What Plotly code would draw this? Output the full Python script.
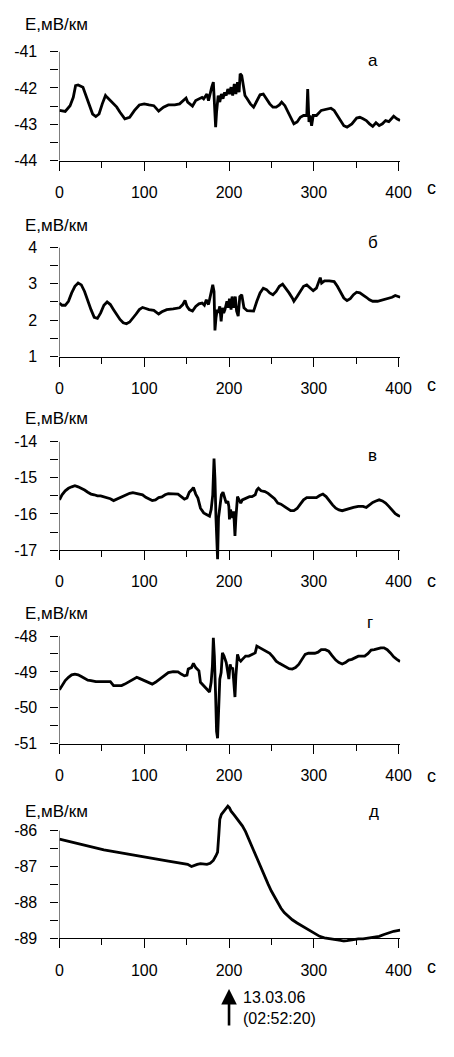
import plotly.graph_objects as go

# ---------------- data (time, s ; E, mV/km) ----------------
t_a = [0, 6.8, 12.5, 16.3, 19, 22, 27.7, 31.5, 35.3, 39.1, 42.9, 46.7, 50.5, 54.3, 56.2, 61.9, 67.6, 71.4, 74.4, 77.1,
       82.8, 88.5, 94.2, 99.9, 105.6, 111.3, 117, 122.7, 128.4, 136, 141.7, 145.5, 149.3, 151.2, 156.9, 160.7, 164.5,
       168.2, 170.1, 173.9, 175.8, 177.7, 179.6, 181.5, 182.7, 184.2, 185.3, 187.2, 189.1, 191, 192.9, 194.8, 196.7,
       198.6, 200.5, 202.4, 204.3, 206.2, 208.1, 210, 211.9, 213.1, 215, 216.5, 218.8, 221.4, 225.2, 229, 232.8, 236.6,
       240.4, 244.2, 248, 251.8, 255.6, 259.4, 262.1, 265.9, 268.9, 272.7, 276.5, 280.3, 284.1, 287.9, 291.7, 292.8,
       294.3, 295.5, 297.4, 299.3, 303.1, 308.8, 314.5, 320.2, 324, 327.8, 331.6, 335.4, 339.2, 344.9, 350.5, 354.3,
       358.1, 361.9, 365.7, 369.5, 373.3, 377.1, 380.9, 384.7, 388.5, 392.3, 394.2, 398, 401.8]
e_a = [-42.62, -42.65, -42.49, -42.26, -41.94, -41.92, -41.98, -42.21, -42.49, -42.72, -42.79, -42.72, -42.44, -42.21,
       -42.26, -42.39, -42.53, -42.67, -42.78, -42.85, -42.81, -42.62, -42.47, -42.44, -42.47, -42.49, -42.64, -42.53,
       -42.47, -42.47, -42.44, -42.35, -42.28, -42.39, -42.5, -42.35, -42.3, -42.26, -42.3, -42.17, -42.35, -42.12,
       -41.98, -41.84, -42.3, -43.08, -42.67, -42.21, -42.39, -42.17, -42.3, -42.12, -42.21, -42.03, -42.17, -41.98,
       -42.21, -41.89, -42.17, -41.84, -42.12, -41.61, -41.66, -41.94, -42.21, -42.3, -42.44, -42.53, -42.35, -42.19,
       -42.17, -42.3, -42.44, -42.53, -42.53, -42.47, -42.39, -42.49, -42.62, -42.81, -42.99, -42.94, -42.81, -42.76,
       -42.76, -42.03, -42.94, -42.76, -43.04, -42.76, -42.76, -42.62, -42.58, -42.56, -42.62, -42.76, -42.9, -43.04,
       -43.08, -42.99, -42.83, -42.81, -42.85, -42.9, -42.99, -43.06, -42.96, -43.04, -42.99, -42.9, -42.93, -42.81,
       -42.78, -42.85, -42.9]

t_b = [0, 3.0, 6.8, 10.6, 14.4, 18.2, 22.0, 25.8, 29.6, 33.4, 37.2, 41.0, 44.8, 48.6, 52.4, 56.2, 60.0, 63.8, 67.6,
       71.4, 75.2, 79.0, 82.8, 86.6, 90.4, 94.2, 98.0, 101.8, 105.6, 111.3, 117.0, 120.8, 126.5, 134.1, 141.7, 145.5,
       148.1, 150.4, 153.1, 156.9, 160.7, 164.5, 168.2, 170.9, 173.2, 175.8, 177.7, 180.8, 182.3, 183.4, 184.6, 186.1,
       187.2, 189.1, 190.7, 192.2, 193.7, 195.2, 197.5, 199.0, 200.5, 202.4, 203.6, 205.5, 207.4, 208.9, 210.8, 212.7,
       215.0, 217.6, 221.4, 225.2, 229.0, 232.8, 236.6, 240.4, 244.2, 248.0, 251.8, 255.6, 259.4, 263.2, 267.0, 270.8,
       274.6, 276.5, 280.3, 284.1, 287.9, 291.7, 295.5, 299.3, 303.1, 306.1, 307.6, 309.2, 312.6, 318.3, 324.0, 327.8,
       331.6, 335.4, 339.2, 343.0, 346.8, 350.5, 354.3, 358.1, 361.9, 365.7, 369.5, 375.2, 380.9, 386.6, 392.3, 396.1,
       399.9, 402]
e_b = [2.47, 2.41, 2.41, 2.52, 2.75, 2.93, 3.02, 2.97, 2.79, 2.52, 2.29, 2.08, 2.05, 2.2, 2.41, 2.5, 2.43, 2.29, 2.15,
       2.02, 1.93, 1.9, 1.95, 2.05, 2.17, 2.29, 2.35, 2.32, 2.29, 2.27, 2.17, 2.23, 2.29, 2.31, 2.34, 2.43, 2.54, 2.38,
       2.29, 2.25, 2.38, 2.45, 2.47, 2.41, 2.56, 2.43, 2.65, 2.97, 2.79, 1.72, 2.06, 2.29, 2.2, 2.38, 1.97, 2.34, 2.2,
       2.29, 2.52, 2.34, 2.59, 2.29, 2.65, 2.34, 2.65, 2.25, 2.11, 2.65, 2.7, 2.34, 2.26, 2.25, 2.25, 2.52, 2.75, 2.88,
       2.84, 2.75, 2.7, 2.79, 2.93, 2.99, 2.88, 2.75, 2.61, 2.52, 2.65, 2.79, 2.93, 2.97, 2.88, 2.81, 2.88, 3.06, 3.17,
       3.02, 3.08, 3.08, 3.06, 2.93, 2.75, 2.61, 2.54, 2.59, 2.7, 2.77, 2.75, 2.7, 2.63, 2.56, 2.52, 2.52, 2.55, 2.59,
       2.63, 2.68, 2.64, 2.63]

t_v = [0, 3.0, 6.8, 10.6, 14.4, 18.2, 22.0, 25.8, 29.6, 33.4, 37.2, 41.0, 44.8, 48.6, 52.4, 56.2, 60.0, 63.8, 67.6,
       71.4, 75.2, 79.0, 82.8, 86.6, 90.4, 94.2, 98.0, 101.8, 105.6, 109.4, 113.2, 117.0, 120.8, 124.6, 128.4, 132.2,
       136.0, 139.8, 143.6, 147.4, 150.4, 153.1, 155.7, 158.0, 160.7, 163.3, 166.3, 170.1, 173.9, 177.0, 178.9, 180.8,
       182.3, 183.4, 184.6, 185.7, 186.5, 187.6, 189.1, 191.0, 192.9, 194.8, 196.7, 198.6, 199.8, 200.5, 201.7, 203.2,
       204.3, 205.5, 207.0, 208.1, 210.0, 211.9, 213.8, 215.7, 218.4, 221.4, 224.1, 227.1, 230.9, 232.8, 234.7, 237.8,
       242.3, 246.1, 249.9, 253.7, 257.5, 261.3, 265.1, 268.9, 272.7, 276.5, 280.3, 284.1, 287.9, 291.7, 295.5, 299.3,
       303.1, 306.9, 310.7, 314.5, 318.3, 322.1, 325.9, 329.7, 333.5, 337.3, 341.1, 346.8, 352.5, 358.1, 361.9, 365.7,
       369.5, 373.3, 377.1, 380.9, 384.7, 388.5, 392.3, 396.1, 399.9, 401.8]
e_v = [-15.61, -15.47, -15.36, -15.29, -15.25, -15.22, -15.25, -15.29, -15.34, -15.4, -15.45, -15.47, -15.5, -15.5,
       -15.52, -15.55, -15.58, -15.63, -15.59, -15.55, -15.49, -15.45, -15.43, -15.41, -15.43, -15.43, -15.47, -15.54,
       -15.59, -15.63, -15.61, -15.55, -15.53, -15.47, -15.44, -15.44, -15.44, -15.45, -15.52, -15.59, -15.56, -15.4,
       -15.34, -15.27, -15.45, -15.56, -15.84, -15.97, -16.02, -16.06, -15.88, -15.47, -14.47, -15.02, -16.11, -16.56,
       -17.25, -16.11, -15.79, -15.47, -15.4, -15.56, -15.7, -15.65, -15.79, -16.15, -15.88, -16.02, -16.11, -15.93,
       -16.61, -16.11, -15.52, -15.61, -15.7, -15.61, -15.58, -15.55, -15.52, -15.52, -15.47, -15.34, -15.29, -15.36,
       -15.38, -15.43, -15.5, -15.58, -15.7, -15.73, -15.79, -15.85, -15.91, -15.91, -15.85, -15.73, -15.61, -15.55,
       -15.55, -15.56, -15.55, -15.49, -15.45, -15.52, -15.64, -15.75, -15.84, -15.89, -15.91, -15.88, -15.85, -15.82,
       -15.79, -15.79, -15.82, -15.75, -15.68, -15.64, -15.61, -15.64, -15.7, -15.79, -15.88, -15.99, -16.05, -16.06]

t_g = [0, 3.0, 6.8, 10.6, 14.4, 18.2, 22.0, 25.8, 29.6, 33.4, 37.2, 42.9, 48.6, 54.3, 60.0, 63.8, 67.6, 73.3, 77.1,
       80.9, 86.6, 91.2, 94.2, 99.9, 105.6, 109.4, 113.2, 117.0, 120.8, 124.6, 128.4, 134.1, 139.8, 143.6, 147.4, 150.4,
       151.9, 155.7, 158.0, 160.7, 164.5, 166.3, 170.1, 173.9, 177.0, 178.9, 180.4, 181.5, 182.7, 184.2, 185.3, 186.5,
       187.6, 189.1, 190.7, 192.2, 194.1, 196.7, 198.6, 199.8, 201.3, 202.8, 204.3, 205.5, 207.0, 208.1, 210.0, 211.9,
       213.8, 215.7, 219.5, 223.3, 227.1, 230.9, 232.8, 236.6, 240.4, 244.2, 248.0, 251.8, 255.6, 259.4, 263.2, 267.0,
       270.8, 274.6, 278.4, 282.2, 286.0, 289.8, 293.6, 297.4, 301.2, 305.0, 308.8, 313.7, 317.5, 321.3, 325.9, 329.7,
       333.5, 337.3, 341.1, 344.9, 348.7, 352.5, 356.3, 360.0, 363.8, 367.6, 371.4, 375.2, 379.0, 382.8, 386.6, 390.4,
       394.2, 398.0, 401.8]
e_g = [-49.5, -49.38, -49.24, -49.15, -49.08, -49.06, -49.08, -49.13, -49.18, -49.23, -49.24, -49.27, -49.27, -49.27,
       -49.27, -49.38, -49.38, -49.38, -49.34, -49.29, -49.22, -49.15, -49.18, -49.24, -49.29, -49.34, -49.29, -49.22,
       -49.15, -49.09, -49.02, -48.99, -49.0, -49.06, -49.11, -49.09, -48.92, -48.88, -48.76, -48.88, -48.97, -49.29,
       -49.38, -49.47, -49.56, -49.29, -48.83, -48.05, -48.56, -49.66, -50.66, -50.85, -50.02, -49.2, -49.02, -48.47,
       -48.56, -48.74, -49.02, -49.2, -48.79, -48.92, -48.88, -49.29, -49.7, -49.11, -48.51, -48.65, -48.7, -48.65,
       -48.56, -48.56, -48.51, -48.47, -48.28, -48.33, -48.38, -48.42, -48.48, -48.58, -48.7, -48.76, -48.81, -48.88,
       -48.91, -48.92, -48.88, -48.79, -48.65, -48.51, -48.48, -48.48, -48.48, -48.45, -48.38, -48.38, -48.42, -48.54,
       -48.67, -48.74, -48.78, -48.74, -48.67, -48.65, -48.6, -48.56, -48.56, -48.56, -48.49, -48.39, -48.38, -48.35,
       -48.33, -48.33, -48.38, -48.47, -48.58, -48.65, -48.71]

t_d = [0, 6.8, 14.4, 22, 29.6, 41, 52.4, 67.6, 82.8, 98, 113.2, 128.4, 143.6, 151.2, 155.7, 158.8, 162.5, 166.3, 170.1,
       173.9, 177.7, 181.5, 184.6, 186.5, 188, 189.1, 191, 194.8, 198.6, 200.5, 202.4, 206.2, 210, 215.7, 219.5, 223.3,
       227.1, 230.9, 234.7, 238.5, 242.3, 246.1, 249.9, 253.7, 257.5, 261.3, 265.1, 268.9, 274.6, 280.3, 287.9, 295.5,
       301.2, 306.9, 312.5, 318.3, 325.9, 331.6, 335.4, 339.2, 344.9, 352.5, 358.1, 365.7, 371.4, 377.1, 382.8, 388.5,
       394.2, 401.8]
e_d = [-86.24, -86.28, -86.33, -86.38, -86.42, -86.48, -86.54, -86.6, -86.67, -86.72, -86.79, -86.85, -86.91, -86.94,
       -87.0, -86.97, -86.94, -86.92, -86.94, -86.94, -86.91, -86.83, -86.7, -86.6, -86.1, -85.69, -85.55, -85.44,
       -85.32, -85.37, -85.46, -85.57, -85.69, -85.87, -86.03, -86.24, -86.47, -86.7, -86.91, -87.11, -87.31, -87.49,
       -87.68, -87.84, -88.01, -88.16, -88.28, -88.37, -88.48, -88.57, -88.68, -88.77, -88.86, -88.94, -88.98, -89.01,
       -89.03, -89.05, -89.07, -89.06, -89.03, -89.01, -89.01, -88.99, -88.96, -88.94, -88.89, -88.85, -88.8, -88.77]

x_ticks = [0, 100, 200, 300, 400]
x_minor = [50, 150, 250, 350]
panel_letters = ["а", "б", "в", "г", "д"]
y_label = "E,мВ/км"
x_label = "с"
event_date = "13.03.06"
event_time = "(02:52:20)"
event_t = 200

# (t, e, labelled low, labelled high)
panels = [
    (t_a, e_a, -44, -41),
    (t_b, e_b, 1, 4),
    (t_v, e_v, -17, -14),
    (t_g, e_g, -51, -48),
    (t_d, e_d, -89, -86),
]

# ---------------- layout geometry (pixels) ----------------
W, H = 454, 1057
X_LEFT_PX, X400_PX = 57.5, 409.0
XMAX = 402
ppx = (X400_PX - X_LEFT_PX) / 400.0
x_dom = [X_LEFT_PX / W, (X_LEFT_PX + XMAX * ppx) / W]

geom = [
    dict(top=44.3, bot=155.0, rlo=-44.0, rhi=-41.0, title_y=17, letter_y=53, c_y=183),
    dict(top=243.3, bot=354.3, rlo=1.0, rhi=4.0, title_y=221, letter_y=238, c_y=383),
    dict(top=440.7, bot=551.0, rlo=-17.35, rhi=-14.0, title_y=417, letter_y=455, c_y=582),
    dict(top=638.3, bot=747.7, rlo=-51.0, rhi=-48.0, title_y=615, letter_y=625, c_y=781),
    dict(top=836.0, bot=945.7, rlo=-89.12, rhi=-85.2, title_y=817, letter_y=817, c_y=975),
]
letter_x = [382, 382, 382, 379, 383]

FONT = "Liberation Sans, Arial, sans-serif"
TICK_SIZE = 16
fig = go.Figure()
layout = dict(width=W, height=H, autosize=False, margin=dict(l=0, r=0, t=0, b=0, pad=0), showlegend=False,
              plot_bgcolor="white", paper_bgcolor="white", font=dict(family=FONT, color="black", size=TICK_SIZE))
shapes = []
annotations = []

for i, ((t, e, lo, hi), g) in enumerate(zip(panels, geom)):
    n = "" if i == 0 else str(i + 1)
    ppu = (g["bot"] - g["top"]) / (hi - lo)
    top_px = g["top"] - (g["rhi"] - hi) * ppu
    bot_px = g["bot"] + (lo - g["rlo"]) * ppu
    fig.add_trace(go.Scatter(x=t, y=e, mode="lines", line=dict(color="black", width=2.8),
                             xaxis="x" + n, yaxis="y" + n, hoverinfo="skip"))
    layout["xaxis" + n] = dict(domain=x_dom, range=[0, XMAX], anchor="free", position=1 - g["bot"] / H,
                               showline=True, linecolor="black", linewidth=1, showgrid=False, zeroline=False,
                               tickmode="array", tickvals=x_ticks, ticktext=[str(v) for v in x_ticks],
                               ticks="outside", ticklen=9, tickwidth=1, tickcolor="black",
                               ticklabelstandoff=8, tickfont=dict(size=TICK_SIZE),
                               minor=dict(tickmode="array", tickvals=x_minor, ticks="outside", ticklen=6,
                                          tickwidth=1, tickcolor="black", showgrid=False))
    ymaj = list(range(lo, hi + 1))
    ymin = [v + 0.5 for v in range(lo, hi)]
    layout["yaxis" + n] = dict(domain=[1 - bot_px / H, 1 - top_px / H], range=[g["rlo"], g["rhi"]],
                               anchor="x" + n, showline=False, showgrid=False, zeroline=False,
                               tickmode="array", tickvals=ymaj, ticktext=[str(v) for v in ymaj],
                               ticks="outside", ticklen=8, tickwidth=1, tickcolor="black",
                               ticklabelstandoff=10, tickfont=dict(size=TICK_SIZE),
                               minor=dict(tickmode="array", tickvals=ymin, ticks="outside", ticklen=8,
                                          tickwidth=1, tickcolor="black", showgrid=False))
    shapes.append(dict(type="line", xref="x" + n, yref="y" + n, x0=0, x1=0, y0=lo, y1=hi,
                       line=dict(color="black", width=1)))
    annotations.append(dict(text=y_label, xref="paper", yref="paper", x=20 / W, y=1 - g["title_y"] / H,
                            xanchor="left", yanchor="middle", showarrow=False, font=dict(size=17)))
    annotations.append(dict(text=panel_letters[i], xref="paper", yref="paper", x=letter_x[i] / W,
                            y=1 - g["letter_y"] / H, xanchor="center", yanchor="middle", showarrow=False,
                            font=dict(size=17)))
    annotations.append(dict(text=x_label, xref="paper", yref="paper", x=443.5 / W, y=1 - g["c_y"] / H,
                            xanchor="center", yanchor="middle", showarrow=False, font=dict(size=18)))

# event arrow under the last panel
annotations.append(dict(text="", x=event_t, xref="x5", y=1 - 997 / H, yref="paper", ax=0, ay=38,
                        showarrow=True, arrowhead=2, arrowsize=1.2, arrowwidth=2.6, arrowcolor="black"))
annotations.append(dict(text=event_date, xref="paper", yref="paper", x=246 / W, y=1 - 1006 / H,
                        xanchor="left", yanchor="middle", showarrow=False, font=dict(size=16)))
annotations.append(dict(text=event_time, xref="paper", yref="paper", x=246 / W, y=1 - 1027 / H,
                        xanchor="left", yanchor="middle", showarrow=False, font=dict(size=16)))

layout["shapes"] = shapes
layout["annotations"] = annotations
fig.update_layout(**layout)
fig.write_html("out.html", config={"displayModeBar": False},
               post_script="document.body.style.margin='0';document.body.style.padding='0';"
                           "document.body.style.overflow='hidden';")
